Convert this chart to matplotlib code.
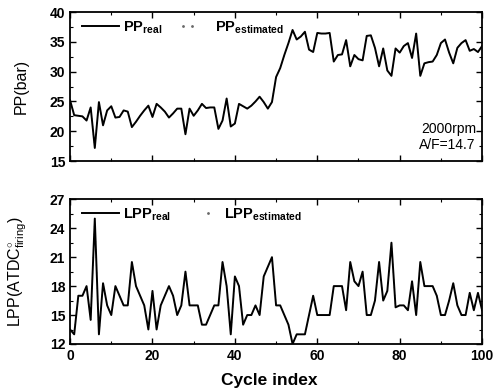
import matplotlib
matplotlib.use('Agg')
import matplotlib.pyplot as plt
from matplotlib.lines import Line2D
from matplotlib.ticker import MultipleLocator

plt.rcParams['font.family'] = ['Liberation Sans', 'DejaVu Sans']
plt.rcParams['mathtext.fontset'] = 'custom'
plt.rcParams['mathtext.rm'] = 'Liberation Sans'
plt.rcParams['mathtext.bf'] = 'Liberation Sans:bold'

cycles = list(range(101))

# PP (bar)
pp_real = [25.2, 22.7, 22.6, 22.5, 21.8, 24.0, 17.2, 24.9, 21.0, 23.5,
           24.2, 22.3, 22.4, 23.5, 23.3, 20.7, 21.6, 22.6, 23.5, 24.3,
           22.4, 24.6, 24.0, 23.3, 22.3, 23.0, 23.8, 23.8, 19.5, 23.8,
           22.6, 23.5, 24.6, 23.9, 24.0, 24.0, 20.4, 21.8, 25.5, 20.8,
           21.3, 24.6, 24.2, 23.8, 24.3, 25.0, 25.8, 24.9, 23.8, 24.9,
           29.1, 30.6, 32.8, 34.8, 37.0, 35.4, 35.9, 36.7, 33.7, 33.3,
           36.5, 36.4, 36.4, 36.5, 31.7, 32.8, 32.9, 35.3, 30.9, 32.8,
           32.1, 31.9, 36.0, 36.1, 34.0, 30.9, 33.9, 30.2, 29.3, 33.9,
           33.2, 34.3, 34.8, 32.3, 36.4, 29.3, 31.4, 31.6, 31.7, 32.8,
           34.8, 35.4, 33.2, 31.4, 34.0, 34.8, 35.3, 33.5, 33.8, 33.3,
           34.3]
pp_est = list(pp_real)

# LPP (ATDC deg)
lpp_real = [13.5, 13.0, 17.0, 17.0, 18.0, 14.5, 25.0, 13.0, 18.3, 16.0,
            15.0, 18.0, 17.0, 16.0, 16.0, 20.5, 18.0, 17.0, 16.0, 13.5,
            17.5, 13.5, 16.0, 17.0, 18.0, 17.0, 15.0, 16.0, 19.5, 16.0,
            16.0, 16.0, 14.0, 14.0, 15.0, 16.0, 16.0, 20.5, 18.0, 13.0,
            19.0, 18.0, 14.0, 15.0, 15.0, 16.0, 15.0, 19.0, 20.0, 21.0,
            16.0, 16.0, 15.0, 14.0, 12.0, 13.0, 13.0, 13.0, 15.0, 17.0,
            15.0, 15.0, 15.0, 15.0, 18.0, 18.0, 18.0, 15.5, 20.5, 18.5,
            18.0, 19.5, 15.0, 15.0, 16.5, 20.5, 16.5, 17.5, 22.5, 15.8,
            16.0, 16.0, 15.5, 18.5, 15.0, 20.5, 18.0, 18.0, 18.0, 17.0,
            15.0, 15.0, 16.5, 18.3, 16.0, 15.0, 15.0, 17.3, 15.5, 17.3,
            15.5]
lpp_est = list(lpp_real)

fig = plt.figure(figsize=(4.97, 3.90), dpi=100)
ax1 = fig.add_axes([0.141, 0.587, 0.829, 0.382])
ax2 = fig.add_axes([0.141, 0.118, 0.829, 0.371])

ax1.plot(cycles, pp_est, color='gray', lw=0.8, ls=(0, (1, 6)))
ax1.plot(cycles, pp_real, color='black', lw=1.4)
ax2.plot(cycles, lpp_est, color='gray', lw=0.8, ls=(0, (1, 6)))
ax2.plot(cycles, lpp_real, color='black', lw=1.4)

ax1.set_xlim(0, 100)
ax1.set_ylim(15, 40)
ax1.yaxis.set_major_locator(MultipleLocator(5))
ax1.yaxis.set_minor_locator(MultipleLocator(2.5))
ax1.set_xticklabels([])
ax1.set_ylabel('PP(bar)', fontsize=11.5)

ax2.set_xlim(0, 100)
ax2.set_ylim(12, 27)
ax2.yaxis.set_major_locator(MultipleLocator(3))
ax2.yaxis.set_minor_locator(MultipleLocator(1.5))
ax2.set_xlabel('Cycle index', fontsize=12.5, fontweight='bold')
ax2.xaxis.set_label_coords(0.483, -0.2)
ax2.set_ylabel('LPP(ATDC$^{\\circ}_{\\mathrm{firing}}$)', fontsize=11.5)

legend_names = [('PP', 0.2485, 2, 1.25, 1.26), ('LPP', 0.304, 1, 1.0, 0.58)]
for ax, (name, x2, npts, hl2, pad2) in zip((ax1, ax2), legend_names):
    ax.xaxis.set_major_locator(MultipleLocator(20))
    ax.xaxis.set_minor_locator(MultipleLocator(10))
    ax.tick_params(which='both', direction='in', top=True, right=True)
    ax.tick_params(which='major', length=4, width=1)
    ax.tick_params(which='minor', length=2, width=0.8)
    for lbl in ax.get_xticklabels() + ax.get_yticklabels():
        lbl.set_fontweight('bold')
        lbl.set_fontsize(10)
    for s in ax.spines.values():
        s.set_linewidth(1.3)
    ax.yaxis.set_label_coords(-0.1, 0.5)

    real_h = Line2D([], [], color='black', lw=1.4)
    est_h = Line2D([], [], color='dimgray', ls='None', marker='.', ms=2)
    leg1 = ax.legend([real_h], [name + '$_{\\mathbf{real}}$'], loc='upper left',
                     bbox_to_anchor=(0.0145, 0.99), borderaxespad=0, frameon=False,
                     prop={'size': 10.5, 'weight': 'bold'}, handlelength=2.55,
                     handletextpad=0.3)
    ax.add_artist(leg1)
    ax.legend([est_h], [name + '$_{\\mathbf{estimated}}$'], loc='upper left',
              bbox_to_anchor=(x2, 0.99), borderaxespad=0, frameon=False,
              prop={'size': 10.5, 'weight': 'bold'}, handlelength=hl2,
              handletextpad=pad2, numpoints=npts)

ax1.text(0.985, 0.06, '2000rpm\nA/F=14.7', transform=ax1.transAxes,
         ha='right', va='bottom', fontsize=10, linespacing=1.2)

fig.savefig('out.png', dpi=100)
